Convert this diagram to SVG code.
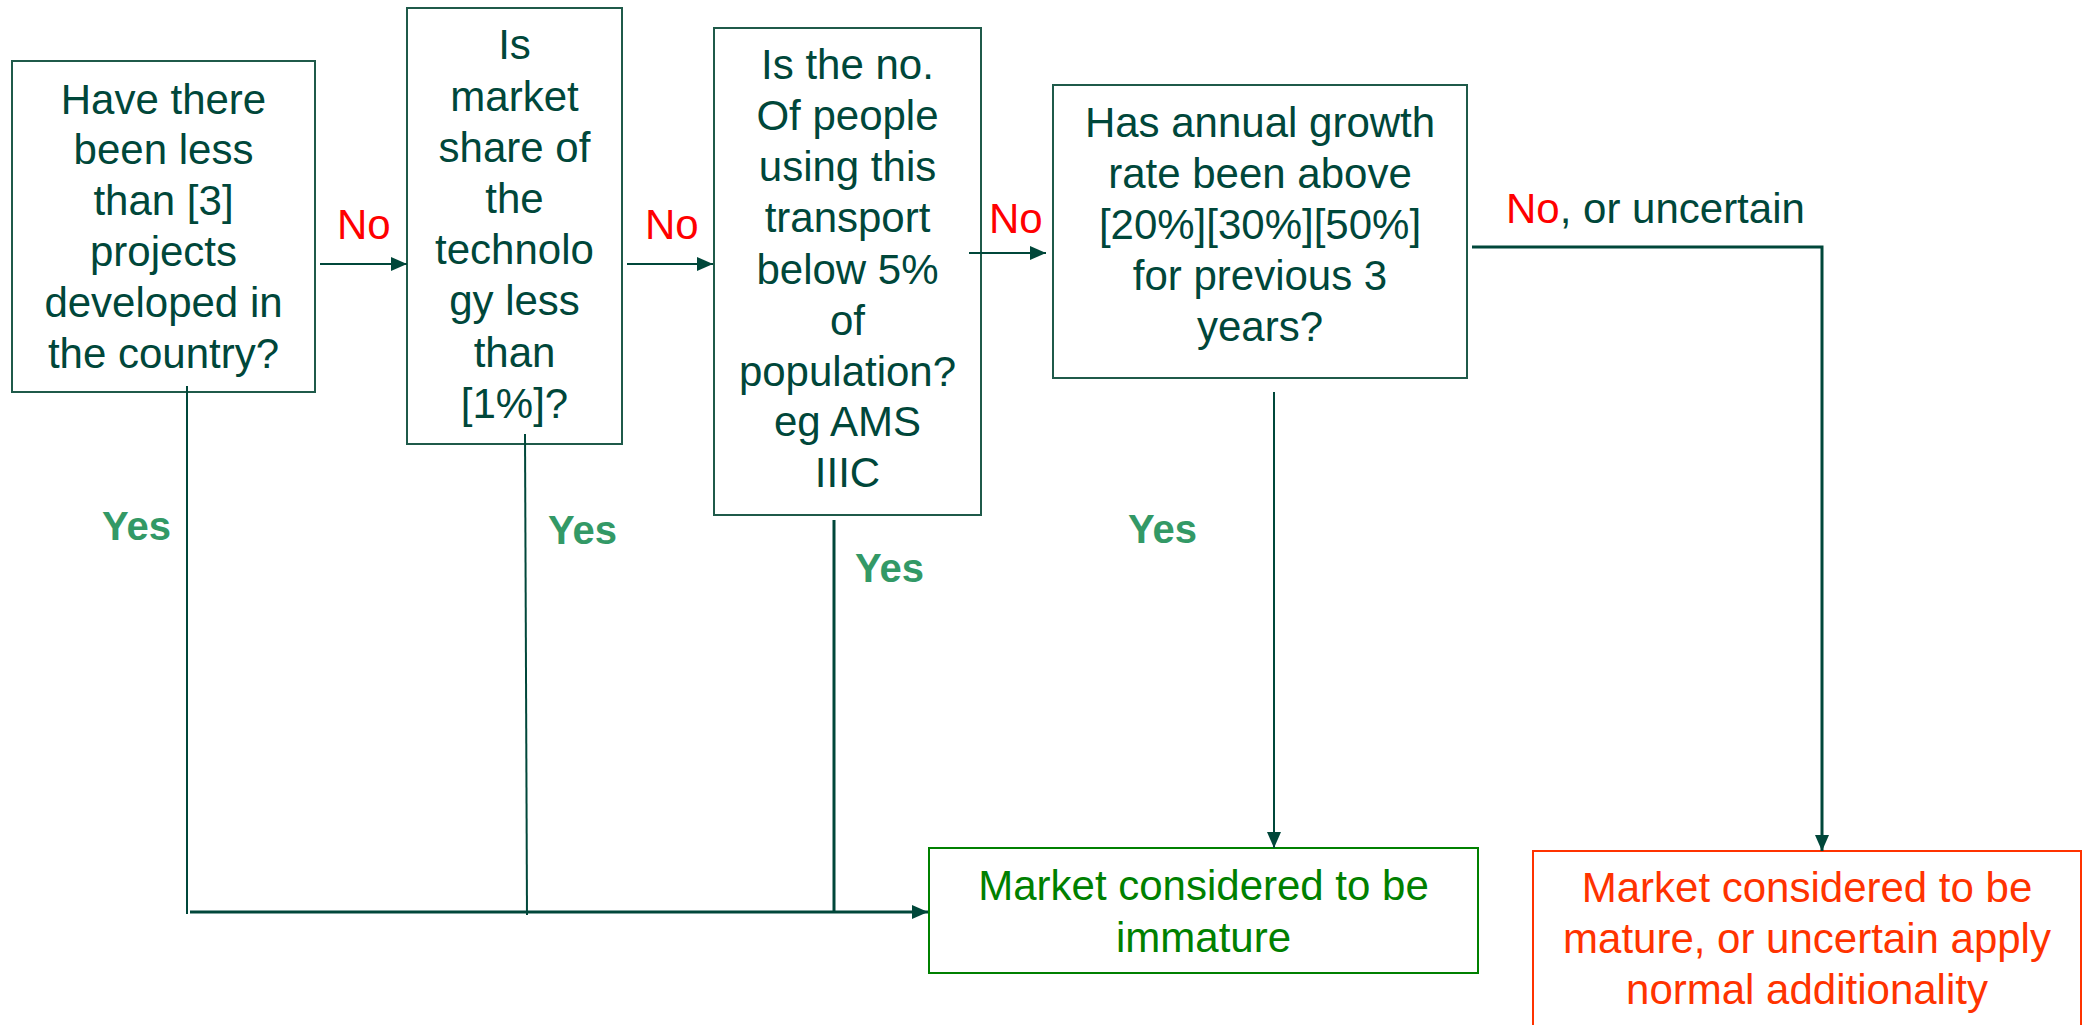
<svg xmlns="http://www.w3.org/2000/svg" width="2083" height="1025" viewBox="0 0 2083 1025">
<style>
.box{fill:#ffffff;stroke:#1f5a4a;stroke-width:2}
.t{font-family:"Liberation Sans",Arial,sans-serif;font-size:42px;fill:#00473a;text-anchor:middle}
.no{font-family:"Liberation Sans",Arial,sans-serif;font-size:42px;fill:#ff0000}
.yes{font-family:"Liberation Sans",Arial,sans-serif;font-size:40px;font-weight:bold;fill:#339966}
.c{fill:none;stroke:#00473a;stroke-width:2}
.c3{fill:none;stroke:#00473a;stroke-width:3}
</style>
<defs>
<marker id="ah" viewBox="0 0 16 14" refX="16" refY="7" markerWidth="16" markerHeight="14" markerUnits="userSpaceOnUse" orient="auto">
<path d="M0,0 L16,7 L0,14 z" fill="#00473a"/>
</marker>
</defs>
<rect width="2083" height="1025" fill="#ffffff"/>

<g id="q1">
<rect class="box" x="12" y="61" width="303" height="331"/>
<text class="t" x="163.5" y="114">Have there</text>
<text class="t" x="163.5" y="164">been less</text>
<text class="t" x="163.5" y="215">than [3]</text>
<text class="t" x="163.5" y="266">projects</text>
<text class="t" x="163.5" y="317">developed in</text>
<text class="t" x="163.5" y="368">the country?</text>
</g>

<g id="q2">
<rect class="box" x="407" y="8" width="215" height="436"/>
<text class="t" x="514.5" y="59">Is</text>
<text class="t" x="514.5" y="111">market</text>
<text class="t" x="514.5" y="162">share of</text>
<text class="t" x="514.5" y="213">the</text>
<text class="t" x="514.5" y="264">technolo</text>
<text class="t" x="514.5" y="315">gy less</text>
<text class="t" x="514.5" y="367">than</text>
<text class="t" x="514.5" y="418">[1%]?</text>
</g>

<g id="q3">
<rect class="box" x="714" y="28" width="267" height="487"/>
<text class="t" x="847.5" y="79">Is the no.</text>
<text class="t" x="847.5" y="130">Of people</text>
<text class="t" x="847.5" y="181">using this</text>
<text class="t" x="847.5" y="232">transport</text>
<text class="t" x="847.5" y="284">below 5%</text>
<text class="t" x="847.5" y="335">of</text>
<text class="t" x="847.5" y="386">population?</text>
<text class="t" x="847.5" y="436">eg AMS</text>
<text class="t" x="847.5" y="487">IIIC</text>
</g>

<g id="q4">
<rect class="box" x="1053" y="85" width="414" height="293"/>
<text class="t" x="1260" y="137">Has annual growth</text>
<text class="t" x="1260" y="188">rate been above</text>
<text class="t" x="1260" y="239">[20%][30%][50%]</text>
<text class="t" x="1260" y="290">for previous 3</text>
<text class="t" x="1260" y="341">years?</text>
</g>

<g id="immature">
<rect x="929" y="848" width="549" height="125" fill="#ffffff" stroke="#008000" stroke-width="2"/>
<text class="t" x="1203.5" y="900" style="fill:#008000">Market considered to be</text>
<text class="t" x="1203.5" y="952" style="fill:#008000">immature</text>
</g>

<g id="mature">
<rect x="1533" y="851" width="548" height="190" fill="#ffffff" stroke="#ff3300" stroke-width="2"/>
<text class="t" x="1807" y="902" style="fill:#ff3300">Market considered to be</text>
<text class="t" x="1807" y="953" style="fill:#ff3300">mature, or uncertain apply</text>
<text class="t" x="1807" y="1004" style="fill:#ff3300">normal additionality</text>
</g>

<g id="connectors">
<line class="c" x1="320" y1="264" x2="407" y2="264" marker-end="url(#ah)"/>
<line class="c" x1="627" y1="264" x2="713" y2="264" marker-end="url(#ah)"/>
<line class="c" x1="969" y1="253" x2="1046" y2="253" marker-end="url(#ah)"/>
<line class="c" x1="187" y1="386" x2="187" y2="914"/>
<line class="c" x1="525" y1="434" x2="527" y2="915"/>
<line class="c3" x1="834" y1="520" x2="834" y2="912"/>
<line class="c3" x1="190" y1="912" x2="928" y2="912" marker-end="url(#ah)"/>
<line class="c" x1="1274" y1="392" x2="1274" y2="848" marker-end="url(#ah)"/>
<polyline class="c3" points="1472,247 1822,247 1822,851" marker-end="url(#ah)"/>
<text class="no" x="337" y="239">No</text>
<text class="no" x="645" y="239">No</text>
<text class="no" x="989" y="233">No</text>
<text class="no" x="1506" y="223">No<tspan style="fill:#00473a">, or uncertain</tspan></text>
<text class="yes" x="102" y="540">Yes</text>
<text class="yes" x="548" y="544">Yes</text>
<text class="yes" x="855" y="582">Yes</text>
<text class="yes" x="1128" y="543">Yes</text>
</g>
</svg>
